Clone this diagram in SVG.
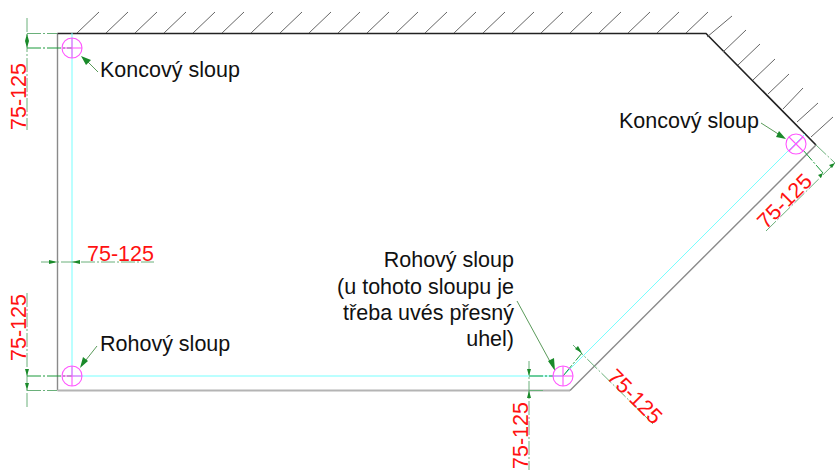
<svg xmlns="http://www.w3.org/2000/svg" width="835" height="470" viewBox="0 0 835 470">
<style>
text{font-family:"Liberation Sans",Arial,sans-serif}
.lab{font-size:21.5px;fill:#111}
.dim{font-size:21.5px;fill:#f11}
.g{fill:none;stroke:#8a8a8a;stroke-width:1.4}
.gb{fill:none;stroke:#b4b4b4;stroke-width:2}
.k{fill:none;stroke:#222;stroke-width:1.6}
.h{fill:none;stroke:#666;stroke-width:1}
.c{fill:none;stroke:#7ff;stroke-width:1}
.m{fill:none;stroke:#f5f;stroke-width:1.1}
.dl{fill:none;stroke:#6ab07a;stroke-width:1;stroke-dasharray:14 2 2 2}
.dd{fill:none;stroke:#1a9a3a;stroke-width:1;stroke-dasharray:14 2 2 2}
.ll{fill:none;stroke:#5a9a5a;stroke-width:1}
.ar{fill:#1a8a2a}
</style>
<g id="wall">
<path class="g" d="M57.5 33.5V390.5"/>
<path class="k" d="M57.5 33.5H706L816 145"/>
<path class="gb" d="M57.5 390.5H570"/>
<path class="g" d="M570 390.5L816 145"/>
<path class="h" d="M77 33L99 12M106 33L128 12M135 33L157 12M164 33L186 12M193 33L215 12M222 33L244 12M251 33L273 12M280 33L302 12M309 33L331 12M338 33L360 12M367 33L389 12M396 33L418 12M425 33L447 12M454 33L476 12M483 33L505 12M512 33L534 12M541 33L563 12M570 33L592 12M599 33L621 12M628 33L650 12M657 33L679 12M686 33L708 12"/>
<path class="h" d="M707 37L732 16M723 52L746 30M738 65L760 44M753 80L775 59M768 94L789 74M783 109L803 88M797 122L818 103M811 137L833 117"/>
</g>
<g id="fence-axis">
<path class="c" d="M72 33V376H563L805 134"/>
</g>
<g id="connectors">
<path class="dl" d="M27 18V130M27 293V407M41 262H154M529 361V470M573 345L653 424M766 231L835 163"/>
<path class="dl" d="M27 33.5H57M27 390.5H57M529 390.5H544M816 145L835 163"/>
<path class="dd" d="M27 48H72M27 376H72M529 376H553M563 376L582 353M803 150L823 173"/>
<path class="ll" d="M98 72L84 58M97 346L82 365M761 123L783 137M517 301L553 367"/>
<path class="ar" d="M81 56L91 60L86 65ZM80 368L83 357L88 361ZM786 139L776 137L779 131ZM555 371L548 361L554 358Z"/>
<path class="ar" d="M27 33.5L25 41H29ZM27 48L25 41H29ZM27 376L25 369H29ZM27 390.5L25 383H29ZM529 376L527 369H531ZM529 390.5L527 398H531ZM57.5 262L49 260V264ZM72 262L80 260V264ZM582 353L578 346L575 349ZM595 365L602 372L599 369ZM823 173L818 175L821 178ZM835 163L829 165L832 168Z"/>
</g>
<g id="post-end-left">
<circle class="m" cx="72" cy="48" r="10"/><path class="m" d="M62 48H82M72 38V58"/>
<text class="lab" x="100" y="77">Koncový sloup</text>
</g>
<g id="post-corner-left">
<circle class="m" cx="72" cy="376" r="10"/><path class="m" d="M62 376H82M72 366V386"/>
<text class="lab" x="100" y="351">Rohový sloup</text>
</g>
<g id="post-corner-right">
<circle class="m" cx="563" cy="376" r="10"/><path class="m" d="M553 376H573M563 366V386"/>
<text class="lab" text-anchor="end" x="514" y="267">Rohový sloup</text>
<text class="lab" text-anchor="end" x="514" y="294">(u tohoto sloupu je</text>
<text class="lab" text-anchor="end" x="514" y="320">třeba uvés přesný</text>
<text class="lab" text-anchor="end" x="514" y="346">uhel)</text>
</g>
<g id="post-end-right">
<circle class="m" cx="796" cy="144" r="10"/><path class="m" d="M789 137L803 151M803 137L789 151"/>
<text class="lab" x="619" y="128">Koncový sloup</text>
</g>
<g id="dimensions">
<text class="dim" transform="translate(26 130) rotate(-90)">75-125</text>
<text class="dim" transform="translate(26 361) rotate(-90)">75-125</text>
<text class="dim" transform="translate(528 469) rotate(-90)">75-125</text>
<text class="dim" x="87" y="261">75-125</text>
<text class="dim" transform="translate(606 378) rotate(45)">75-125</text>
<text class="dim" transform="translate(766 230) rotate(-45)">75-125</text>
</g>
</svg>
